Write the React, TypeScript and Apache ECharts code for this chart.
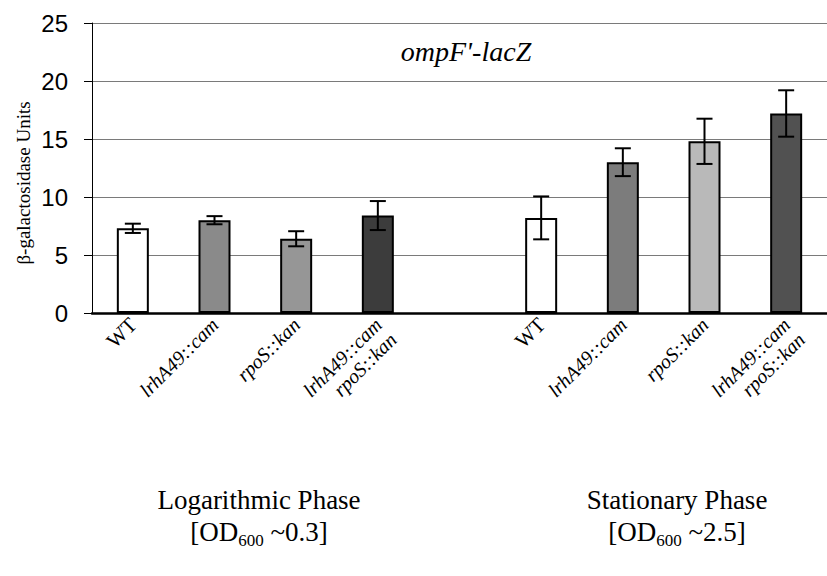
import React, { useEffect, useRef } from "react";
import * as echarts from "echarts";

const categoryKeys = ["logWT", "logLrh", "logRpo", "logBoth", "gap", "statWT", "statLrh", "statRpo", "statBoth"];
const categoryLabels = [
  "{r|WT}",
  "{i|lrhA49::cam}",
  "{i|rpoS::kan}",
  "{i|lrhA49::cam}\n{i|rpoS::kan}",
  "",
  "{r|WT}",
  "{i|lrhA49::cam}",
  "{i|rpoS::kan}",
  "{i|lrhA49::cam}\n{i|rpoS::kan}",
];
const meanValues = [7.3, 8.0, 6.4, 8.4, null, 8.2, 13.0, 14.8, 17.2];
const errorValues = [0.4, 0.35, 0.65, 1.25, null, 1.85, 1.2, 1.95, 2.0];
const barColors = ["#ffffff", "#8a8a8a", "#969696", "#3c3c3c", "#ffffff", "#ffffff", "#7c7c7c", "#b9b9b9", "#515151"];
const yTicks = [0, 5, 10, 15, 20, 25];
const yTitle = "β-galactosidase Units";

export default function App() {
  const ref = useRef<HTMLDivElement>(null);
  useEffect(() => {
    if (!ref.current) return;
    const chart = echarts.init(ref.current, null, { renderer: "svg" });
    const serif = "Liberation Serif";
    const subRich = {
      n: { fontFamily: serif, fontSize: 27, color: "#000", lineHeight: 32 },
      s: { fontFamily: serif, fontSize: 17, color: "#000", lineHeight: 32, padding: [16, 0, 0, 0] },
    };
    chart.setOption({
      animation: false,
      backgroundColor: "#ffffff",
      grid: { left: 92, top: 23, bottom: 263, right: -12, containLabel: false },
      xAxis: {
        type: "category",
        data: categoryKeys,
        axisLine: { lineStyle: { color: "#000", width: 2.5 } },
        axisTick: { show: false },
        axisLabel: {
          interval: 0,
          rotate: 45,
          margin: 8,
          formatter: (_v: string, i: number) => categoryLabels[i],
          rich: {
            r: { fontFamily: serif, fontSize: 21, color: "#000", align: "right", lineHeight: 21 },
            i: { fontFamily: serif, fontSize: 20, fontStyle: "italic", color: "#000", align: "right", lineHeight: 21 },
          },
          verticalAlign: "top",
          padding: [-10, 0, 0, 0],
        },
      },
      yAxis: {
        type: "value",
        min: yTicks[0],
        max: yTicks[yTicks.length - 1],
        interval: 5,
        axisLine: { show: true, lineStyle: { color: "#000", width: 1 } },
        axisTick: { show: true, inside: false, length: 8, lineStyle: { color: "#000" } },
        axisLabel: { fontFamily: "Liberation Sans", fontSize: 24, color: "#000", margin: 24 },
        splitLine: { show: true, lineStyle: { color: "#7a7a7a", width: 1 } },
      },
      series: [
        {
          type: "bar",
          data: meanValues.map((v, i) => ({
            value: v,
            itemStyle: { color: barColors[i], borderColor: "#000", borderWidth: 2 },
          })),
          barWidth: 32,
        },
        {
          type: "custom",
          data: meanValues.map((v, i) => [i, v, errorValues[i]]),
          renderItem: (params: any, api: any) => {
            const m = api.value(1);
            const e = api.value(2);
            if (m == null || isNaN(m)) return null;
            const x = api.value(0);
            const top = api.coord([x, m + e]);
            const bot = api.coord([x, m - e]);
            const hw = 8;
            const style = { stroke: "#000", lineWidth: 2 };
            return {
              type: "group",
              children: [
                { type: "line", shape: { x1: top[0], y1: top[1], x2: bot[0], y2: bot[1] }, style },
                { type: "line", shape: { x1: top[0] - hw, y1: top[1], x2: top[0] + hw, y2: top[1] }, style },
                { type: "line", shape: { x1: bot[0] - hw, y1: bot[1], x2: bot[0] + hw, y2: bot[1] }, style },
              ],
            };
          },
          z: 5,
        },
      ],
      graphic: [
        {
          type: "text",
          x: 23,
          y: 183,
          rotation: Math.PI / 2,
          style: {
            text: yTitle,
            fontFamily: serif,
            fontSize: 19,
            fill: "#000",
            textAlign: "center",
            textVerticalAlign: "middle",
          },
        },
        {
          type: "text",
          x: 466,
          y: 51,
          style: {
            text: "ompF'-lacZ",
            fontFamily: serif,
            fontStyle: "italic",
            fontSize: 28,
            fill: "#000",
            textAlign: "center",
            textVerticalAlign: "middle",
          },
        },
        {
          type: "text",
          x: 259,
          y: 500,
          style: { text: "Logarithmic Phase", fontFamily: serif, fontSize: 27, fill: "#000", textAlign: "center", textVerticalAlign: "middle" },
        },
        {
          type: "text",
          x: 259,
          y: 532,
          style: { text: "{n|[OD}{s|600}{n| ~0.3]}", textAlign: "center", textVerticalAlign: "middle", rich: subRich },
        },
        {
          type: "text",
          x: 677,
          y: 500,
          style: { text: "Stationary Phase", fontFamily: serif, fontSize: 27, fill: "#000", textAlign: "center", textVerticalAlign: "middle" },
        },
        {
          type: "text",
          x: 677,
          y: 532,
          style: { text: "{n|[OD}{s|600}{n| ~2.5]}", textAlign: "center", textVerticalAlign: "middle", rich: subRich },
        },
      ],
    });
    return () => chart.dispose();
  }, []);
  return <div ref={ref} style={{ width: 827, height: 576, position: "absolute", left: 0, top: 0 }} />;
}
